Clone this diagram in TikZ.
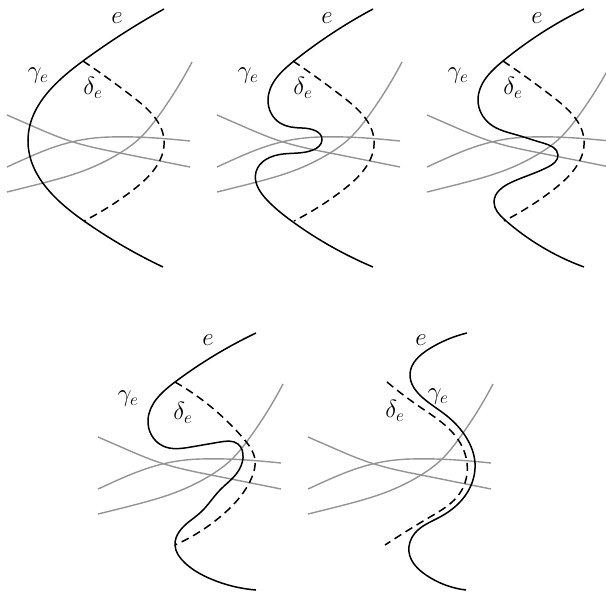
\documentclass[tikz,border=0pt]{standalone}
\usetikzlibrary{hobby}
\begin{document}
\begin{tikzpicture}[x=1pt,y=-1pt,
  blk/.style={use Hobby shortcut,black,line width=1.5pt},
  gry/.style={use Hobby shortcut,black!42,line width=1.4pt},
  grybz/.style={black!42,line width=1.4pt},
  dsh/.style={use Hobby shortcut,black,line width=1.5pt,dash pattern=on 8pt off 5pt},
  lbl/.style={font=\fontsize{25}{28}\selectfont,inner sep=0pt}]
\useasboundingbox (0,0) rectangle (606,598);
\newcommand{\graycurves}{%
  \draw[gry] (7,115) .. (30,125) .. (70,141) .. (120,153) .. (190,167);
  \draw[grybz] (7,167) .. controls (40,152) and (68,138) .. (110,137) .. controls (140,136) and (170,139) .. (190,141);
  \draw[gry] (7,192) .. (43,183) .. (83,171) .. (120,153) .. (140,138) .. (157,118) .. (192,62);}
\newcommand{\dashedstd}{%
  \draw[dsh] (83,61) .. (133,97) .. (164,140) .. (133,190) .. (84,221);}
% panel 1
\begin{scope}[shift={(0,0)}]
  \graycurves
  \dashedstd
  \draw[blk] (164,9) .. (83,61) .. (28,140) .. (84,221) .. (163,267);
  \node[lbl] (e1) at (117,18) {$e$};
  \node[lbl] (g1) at (38,76) {$\gamma_e$};
  \node[lbl] (d1) at (93,88) {$\delta_e$};
\end{scope}
% panel 2
\begin{scope}[shift={(210,0)}]
  \graycurves
  \dashedstd
  \draw[blk] (163,9) .. (84,61) .. (58,100) .. (70,123) .. (92,128) .. (112,140) .. (103,150) .. (73,154) .. (46,172) .. (57,200) .. (83,222) .. (163,267);
  \node[lbl] (e2) at (117,18) {$e$};
  \node[lbl] (g2) at (38,76) {$\gamma_e$};
  \node[lbl] (d2) at (93,88) {$\delta_e$};
\end{scope}
% panel 3
\begin{scope}[shift={(420,0)}]
  \graycurves
  \dashedstd
  \draw[blk] (164,9) .. (83,61) .. (58,100) .. (70,124) .. (97,135) .. (123,143) .. (138,155) .. (128,167) .. (92,182) .. (74,202) .. (85,220) .. (164,267);
  \node[lbl] (e3) at (117,18) {$e$};
  \node[lbl] (g3) at (38,76) {$\gamma_e$};
  \node[lbl] (d3) at (93,88) {$\delta_e$};
\end{scope}
% panel 4
\begin{scope}[shift={(91,322)}]
  \graycurves
  \draw[dsh] (84,60) .. (152,116) .. (164,138) .. (161,155) .. (149,175) .. (129,195) .. (84,223);
  \draw[blk] (165,11) .. (84,60) .. (57,98) .. (72,124) .. (100,125) .. (129,120) .. (147,122) .. (152,136) .. (146,151) .. (129,168) .. (110,190) .. (88,210) .. (84,223) .. (94,241) .. (120,257) .. (165,268);
  \node[lbl] (e4) at (117,18) {$e$};
  \node[lbl] (g4) at (37,77) {$\gamma_e$};
  \node[lbl] (d4) at (92,91) {$\delta_e$};
\end{scope}
% panel 5
\begin{scope}[shift={(301,322)}]
  \graycurves
  \draw[dsh] (86,60) .. (119,85) .. (156,116) .. (166,141) .. (159,171) .. (129,195) .. (84,223);
  \draw[blk] (166,11) .. (128,27) .. (109,52) .. (122,76) .. (146,94) .. (163,112) .. (174,141) .. (166,171) .. (139,195) .. (114,211) .. (108,230) .. (125,253) .. (165,268);
  \node[lbl] (e5) at (120,18) {$e$};
  \node[lbl] (g5) at (137,75) {$\gamma_e$};
  \node[lbl] (d5) at (94,89) {$\delta_e$};
\end{scope}
\end{tikzpicture}
\end{document}
